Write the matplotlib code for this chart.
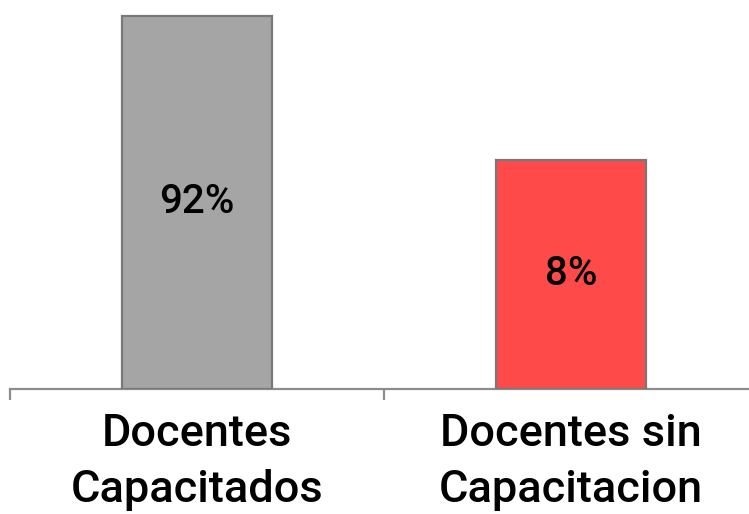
import numpy as np
import matplotlib.pyplot as plt
from matplotlib.ticker import FixedLocator, NullLocator

plt.rcParams["font.family"] = ["Roboto", "DejaVu Sans"]

# data
categories = ["Docentes\nCapacitados", "Docentes sin\nCapacitacion"]
values = [92, 8]
labels = ["92%", "8%"]
colors = ["#a5a5a5", "#ff4a4a"]

# log axis limits (the original bars are not drawn proportionally)
y_bottom, y_top = 0.1646, 120.6

W, H = 749, 514
fig = plt.figure(figsize=(W / 100, H / 100), dpi=100)
ax = fig.add_axes([10 / W, 125 / H, 748 / W, 389 / H])

x = np.arange(len(values))
ax.set_yscale("log")
ax.bar(x, [v - y_bottom for v in values], bottom=y_bottom, width=0.4,
       color=colors, edgecolor="#787878", linewidth=1.6, zorder=3)

for xi, v, lab in zip(x, values, labels):
    ymid = np.sqrt(v * y_bottom)
    ax.text(xi, ymid, lab, ha="center", va="center", fontsize=29,
            fontweight="medium", color="black", zorder=4)

ax.set_xlim(-0.5, 1.5)
ax.set_ylim(y_bottom, y_top)

for s in ["left", "right", "top"]:
    ax.spines[s].set_visible(False)
ax.spines["bottom"].set_color("#8c8c8c")
ax.spines["bottom"].set_linewidth(1.6)

ax.yaxis.set_major_locator(NullLocator())
ax.yaxis.set_minor_locator(NullLocator())

ax.set_xticks(x)
ax.set_xticklabels(categories, fontsize=32.5, fontweight="medium", linespacing=1.45)
ax.tick_params(axis="x", which="major", length=0, pad=17)
ax.xaxis.set_minor_locator(FixedLocator([-0.5, 0.5, 1.5]))
ax.tick_params(axis="x", which="minor", length=8, width=1.6, color="#8c8c8c",
               direction="out")

fig.savefig("out.png", dpi=100)
